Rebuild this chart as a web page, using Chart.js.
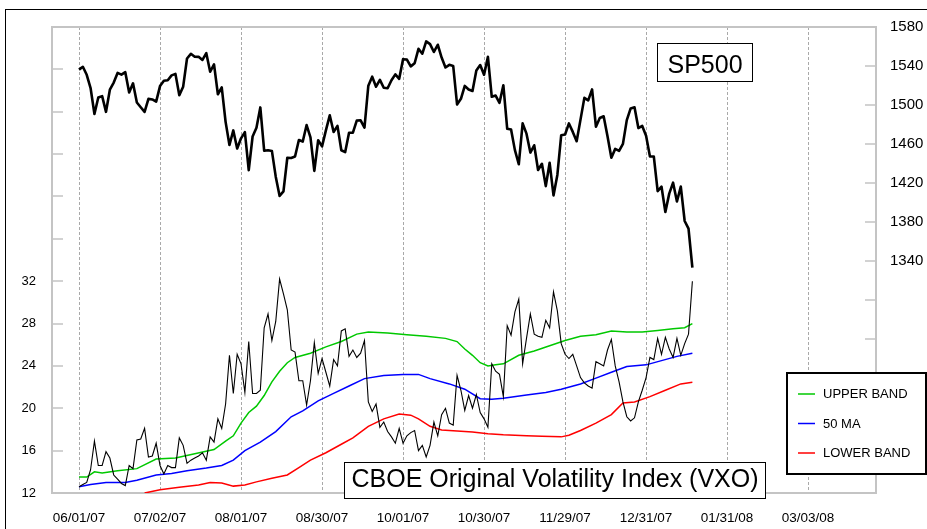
<!DOCTYPE html>
<html>
<head>
<meta charset="utf-8">
<title>SP500 and CBOE Original Volatility Index (VXO)</title>
<script src="https://cdn.jsdelivr.net/npm/chart.js@4.4.1/dist/chart.umd.min.js"></script>
<style>
    html, body { margin: 0; padding: 0; background: #fff; }
    #wrap { width: 927px; height: 529px; }
</style>
</head>
<body>
<div id="wrap"><canvas id="chart" width="927" height="529"></canvas></div>
<script>
// x axis: trading-day index, one date label every 21 sessions
const tickIdx = [0, 21, 42, 63, 84, 105, 126, 147, 168, 189];
const dateLabels = ['06/01/07', '07/02/07', '08/01/07', '08/30/07', '10/01/07',
                    '10/30/07', '11/29/07', '12/31/07', '01/31/08', '03/03/08'];

// tick values of the two value axes
const vxoTicks = [12, 16, 20, 24, 28, 32, 36, 40, 44, 48, 52];
const spTicks = [1140, 1180, 1220, 1260, 1300, 1340, 1380, 1420, 1460, 1500, 1540, 1580];

// SP500 daily close, 06/01/07 .. 01/17/08
const sp500 = [
    1536.3, 1539.2, 1531.0, 1517.4, 1490.7, 1507.7, 1509.1, 1493.0, 1515.7, 1523.0,
    1532.9, 1531.1, 1533.7, 1512.8, 1522.2, 1502.6, 1497.7, 1492.9, 1506.3, 1505.7,
    1503.4, 1519.4, 1524.9, 1525.4, 1530.4, 1531.9, 1510.1, 1518.8, 1547.7, 1552.5,
    1549.5, 1549.4, 1546.2, 1553.1, 1534.1, 1541.6, 1511.0, 1518.1, 1482.7, 1459.0,
    1473.9, 1455.3, 1465.8, 1472.2, 1433.1, 1467.7, 1476.7, 1497.5, 1453.1, 1453.6,
    1452.9, 1426.5, 1406.7, 1411.3, 1445.9, 1445.6, 1447.1, 1464.1, 1462.5, 1479.4,
    1466.8, 1432.4, 1463.8, 1457.6, 1474.0, 1489.4, 1472.3, 1478.6, 1453.6, 1451.7,
    1471.5, 1471.6, 1484.0, 1484.3, 1476.7, 1519.8, 1529.0, 1518.8, 1525.8, 1517.7,
    1517.2, 1525.4, 1531.4, 1526.8, 1547.0, 1546.6, 1539.6, 1542.8, 1557.6, 1552.6,
    1565.2, 1562.5, 1554.4, 1561.8, 1548.7, 1538.5, 1541.2, 1540.1, 1500.6, 1506.3,
    1519.6, 1515.9, 1514.4, 1535.3, 1541.0, 1531.0, 1549.4, 1508.4, 1509.7, 1502.2,
    1520.3, 1475.6, 1474.8, 1453.7, 1439.2, 1481.1, 1470.6, 1451.2, 1458.7, 1433.3,
    1439.7, 1416.8, 1440.7, 1407.2, 1428.2, 1469.0, 1469.7, 1481.1, 1472.4, 1462.8,
    1485.0, 1507.3, 1504.7, 1516.0, 1477.7, 1486.6, 1488.4, 1468.0, 1445.9, 1455.0,
    1453.0, 1460.1, 1484.5, 1496.5, 1497.7, 1476.3, 1478.5, 1468.4, 1447.2, 1447.2,
    1411.6, 1416.2, 1390.2, 1409.1, 1420.3, 1401.0, 1416.3, 1381.0, 1373.2, 1333.3
];

// VXO daily close, same sessions
const vxo = [
    12.6, 12.8, 13.0, 14.2, 16.9, 14.6, 14.6, 15.9, 15.3, 13.7,
    13.3, 12.9, 12.7, 14.6, 14.3, 17.0, 17.1, 18.1, 15.4, 15.5,
    16.7, 14.6, 13.8, 14.6, 14.4, 14.4, 17.2, 16.5, 14.8, 15.1,
    15.3, 15.5, 15.8, 15.1, 17.3, 16.8, 19.0, 18.1, 20.4, 25.0,
    21.4, 25.1, 24.2, 21.5, 26.3, 21.4, 21.4, 21.7, 27.6, 28.9,
    26.4, 28.2, 32.2, 30.8, 29.3, 25.5, 25.3, 22.6, 22.6, 20.3,
    22.6, 26.2, 23.3, 24.7, 23.4, 22.1, 24.6, 24.0, 27.3, 27.5,
    24.9, 25.5, 24.8, 25.2, 26.4, 20.6, 19.7, 20.4, 18.2, 18.7,
    17.8, 17.3, 16.7, 18.1, 16.7, 17.4, 17.7, 17.9, 16.0, 16.5,
    15.4, 16.5, 18.7, 17.4, 19.4, 20.0, 18.6, 18.4, 23.1, 21.7,
    19.8, 21.2, 20.0, 21.3, 19.6, 19.0, 18.2, 24.2, 23.5, 23.2,
    21.1, 27.8, 26.9, 29.1, 30.3, 24.2, 26.6, 28.9, 27.0, 26.8,
    26.7, 28.3, 27.6, 31.0, 29.2, 26.1, 25.1, 24.7, 25.1, 24.0,
    22.9, 22.4, 22.1, 21.9, 24.4, 24.2, 24.0, 25.5, 26.5, 24.0,
    22.5, 20.6, 19.2, 18.8, 19.1, 20.6, 21.7, 22.9, 24.8, 24.6,
    26.6, 25.1, 26.7, 25.6, 24.8, 26.6, 25.0, 26.1, 27.0, 32.0
];

// bands, read at selected sessions
const upperIdx = [0, 2, 4, 6, 10, 15, 20, 25, 30, 35, 38, 40, 42, 44, 46, 48, 50, 52, 54, 56,
                  60, 64, 68, 72, 75, 80, 85, 90, 95, 98, 100, 102, 104, 106, 108, 110, 114, 118,
                  122, 126, 130, 134, 138, 142, 146, 150, 154, 157, 159];
const upperVal = [13.5, 13.5, 14.0, 13.9, 14.1, 14.3, 15.2, 15.3, 15.7, 16.1, 16.9, 17.4, 18.6, 19.6, 20.2, 21.2, 22.5, 23.5, 24.3, 24.8,
                  25.2, 25.8, 26.3, 27.0, 27.2, 27.1, 26.95, 26.8, 26.6, 26.3, 25.6, 25.0, 24.3, 24.0, 24.1, 24.2, 25.0, 25.4,
                  25.9, 26.4, 26.8, 26.95, 27.3, 27.2, 27.2, 27.35, 27.5, 27.6, 28.0];

const maIdx = [0, 3, 7, 12, 15, 20, 24, 28, 33, 37, 40, 43, 47, 51, 55, 58, 62, 66, 70, 74,
               79, 84, 88, 91, 96, 100, 104, 107, 110, 116, 121, 125, 130, 134, 138, 142, 147, 151, 155, 159];
const maVal = [12.6, 12.8, 13.0, 13.0, 13.2, 13.7, 13.85, 14.1, 14.35, 14.6, 15.1, 16.0, 16.8, 17.8, 19.2, 19.75, 20.7, 21.4, 22.1, 22.8,
               23.1, 23.2, 23.2, 22.8, 22.3, 21.8, 20.9, 20.85, 20.95, 21.25, 21.5, 21.8, 22.3, 22.85, 23.4, 23.95, 24.1, 24.5, 24.9, 25.2];

const lowerIdx = [17, 21, 26, 31, 34, 37, 40, 43, 46, 50, 54, 57, 60, 64, 68, 71, 75, 79, 83, 86,
                  88, 91, 94, 98, 102, 106, 110, 116, 120, 125, 127, 130, 134, 138, 141, 144, 148, 152, 156, 159];
const lowerVal = [12.0, 12.3, 12.55, 12.75, 13.0, 12.95, 12.65, 12.75, 13.05, 13.4, 13.7, 14.4, 15.1, 15.8, 16.6, 17.2, 18.3, 19.0, 19.45, 19.35,
                  19.0, 18.3, 17.95, 17.85, 17.75, 17.6, 17.5, 17.4, 17.35, 17.3, 17.45, 17.9, 18.6, 19.4, 20.5, 20.6, 21.1, 21.7, 22.3, 22.45];

const FONT = "'Liberation Sans', Arial, Helvetica, sans-serif";
const AXIS_GRAY = '#c4c4c4';

function series(values) {
    return values.map((v, i) => ({ x: i, y: v }));
}

function sampled(idx, values) {
    return values.map((v, k) => ({ x: idx[k], y: v }));
}

function box(ctx, x, y, w, h) {
    ctx.fillStyle = '#fff';
    ctx.fillRect(x, y, w, h);
    ctx.strokeStyle = '#000';
    ctx.lineWidth = 1;
    ctx.strokeRect(x + 0.5, y + 0.5, w - 1, h - 1);
}

// frame, inward tick marks, title boxes and legend
const decor = {
    id: 'decor',
    beforeDatasetsDraw(chart) {
        const { ctx, chartArea: a, scales } = chart;
        ctx.save();
        ctx.strokeStyle = AXIS_GRAY;
        ctx.lineWidth = 2;
        ctx.strokeRect(a.left, a.top, a.right - a.left, a.bottom - a.top);
        ctx.lineWidth = 1.5;
        ctx.beginPath();
        scales.yV.ticks.forEach(t => {
            const y = Math.round(scales.yV.getPixelForValue(t.value));
            ctx.moveTo(a.left, y);
            ctx.lineTo(a.left + 11, y);
        });
        scales.yS.ticks.forEach(t => {
            const y = Math.round(scales.yS.getPixelForValue(t.value));
            ctx.moveTo(a.right - 11, y);
            ctx.lineTo(a.right, y);
        });
        ctx.stroke();
        ctx.restore();
    },
    afterDraw(chart) {
        const ctx = chart.ctx;
        ctx.save();

        box(ctx, 657, 43, 96, 39);
        ctx.fillStyle = '#000';
        ctx.font = '25px ' + FONT;
        ctx.textAlign = 'center';
        ctx.textBaseline = 'alphabetic';
        ctx.fillText('SP500', 705, 73);

        box(ctx, 344, 462, 422, 37);
        ctx.fillStyle = '#000';
        ctx.fillText('CBOE Original Volatility Index (VXO)', 555, 487);

        // legend
        ctx.fillStyle = '#fff';
        ctx.fillRect(786, 372, 141, 103);
        ctx.strokeStyle = '#000';
        ctx.lineWidth = 2;
        ctx.strokeRect(787, 373, 139, 101);
        const items = chart.data.datasets.filter(d => d.inLegend);
        ctx.font = '13px ' + FONT;
        ctx.textAlign = 'left';
        ctx.textBaseline = 'middle';
        items.forEach((d, k) => {
            const y = 394 + k * 29.5;
            ctx.strokeStyle = d.borderColor;
            ctx.lineWidth = 1.5;
            ctx.beginPath();
            ctx.moveTo(798, y);
            ctx.lineTo(815, y);
            ctx.stroke();
            ctx.fillStyle = '#000';
            ctx.fillText(d.label, 823, y + 0.5);
        });

        // outer frame
        ctx.strokeStyle = '#000';
        ctx.lineWidth = 1;
        ctx.strokeRect(5.5, 9.5, 1000, 1000);
        ctx.restore();
    }
};

new Chart(document.getElementById('chart'), {
    type: 'line',
    data: {
        datasets: [
            {
                label: 'SP500',
                data: series(sp500),
                yAxisID: 'yS',
                borderColor: '#000',
                borderWidth: 2.6,
                borderJoinStyle: 'round'
            },
            {
                label: 'VXO',
                data: series(vxo),
                yAxisID: 'yV',
                borderColor: '#000',
                borderWidth: 1.1
            },
            {
                label: 'UPPER BAND',
                inLegend: true,
                data: sampled(upperIdx, upperVal),
                yAxisID: 'yV',
                borderColor: '#00c800',
                borderWidth: 1.5
            },
            {
                label: '50 MA',
                inLegend: true,
                data: sampled(maIdx, maVal),
                yAxisID: 'yV',
                borderColor: '#0000ff',
                borderWidth: 1.5
            },
            {
                label: 'LOWER BAND',
                inLegend: true,
                data: sampled(lowerIdx, lowerVal),
                yAxisID: 'yV',
                borderColor: '#ff0000',
                borderWidth: 1.5
            }
        ]
    },
    options: {
        responsive: false,
        animation: false,
        devicePixelRatio: 1,
        layout: { padding: { top: 27, left: 0, right: 0, bottom: 0 } },
        elements: {
            point: { radius: 0 },
            line: { tension: 0, fill: false }
        },
        plugins: {
            legend: { display: false },
            tooltip: { enabled: false }
        },
        scales: {
            x: {
                type: 'linear',
                min: -7,
                max: 206.6,
                afterBuildTicks: s => { s.ticks = tickIdx.map(v => ({ value: v })); },
                afterFit: s => { s.height = 36; },
                grid: { color: '#a9a9a9', lineWidth: 1, drawTicks: false },
                border: { display: false, dash: [3, 2] },
                ticks: {
                    padding: 17,
                    color: '#000',
                    autoSkip: false,
                    maxRotation: 0,
                    font: { family: FONT, size: 13.5 },
                    callback: v => dateLabels[tickIdx.indexOf(v)]
                }
            },
            yV: {
                position: 'left',
                min: 12,
                max: 56,
                afterBuildTicks: s => { s.ticks = vxoTicks.map(v => ({ value: v })); },
                afterFit: s => { s.width = 52; },
                grid: { display: false, drawTicks: false },
                border: { display: false },
                ticks: {
                    padding: 16,
                    color: '#000',
                    autoSkip: false,
                    font: { family: FONT, size: 13 },
                    callback: v => (v <= 32 ? String(v) : '')
                }
            },
            yS: {
                position: 'right',
                min: 1102,
                max: 1580,
                afterBuildTicks: s => { s.ticks = spTicks.map(v => ({ value: v })); },
                afterFit: s => { s.width = 51; },
                grid: { display: false, drawTicks: false },
                border: { display: false },
                ticks: {
                    padding: 14,
                    color: '#000',
                    autoSkip: false,
                    font: { family: FONT, size: 15 },
                    callback: v => (v >= 1340 ? String(v) : '')
                }
            }
        }
    },
    plugins: [decor]
});
</script>
</body>
</html>
